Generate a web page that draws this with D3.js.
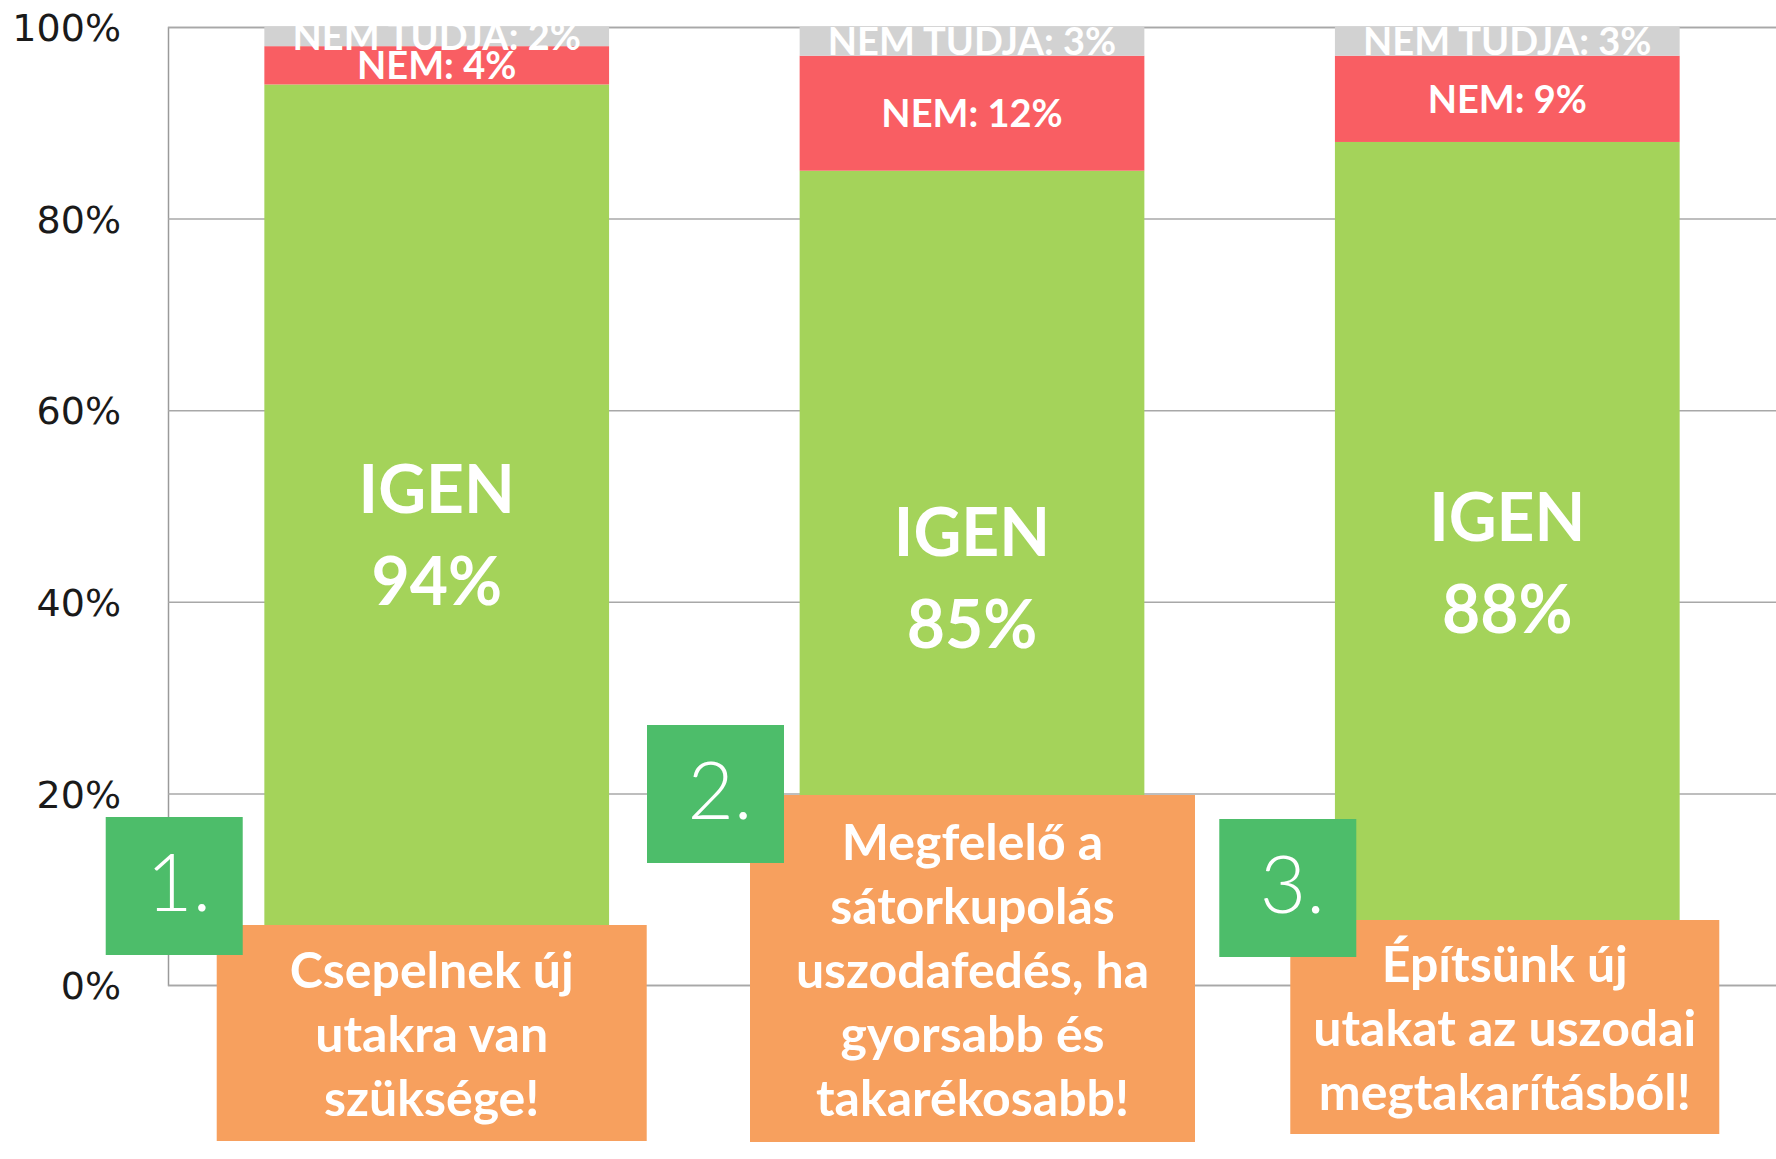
<!DOCTYPE html>
<html>
<head>
<meta charset="utf-8">
<script src="https://cdn.jsdelivr.net/npm/d3@7"></script>
<style>
  body { margin: 0; background: #fff; }
  svg { display: block; }
</style>
</head>
<body>
<div id="chart"></div>
<script>
// data
const categories = ["1.", "2.", "3."];
const igen = [94, 85, 88];
const nem = [4, 12, 9];
const nemTudja = [2, 3, 3];
const yTicks = [0, 20, 40, 60, 80, 100];
const statements = [
  ["Csepelnek új", "utakra van", "szüksége!"],
  ["Megfelelő a", "sátorkupolás", "uszodafedés, ha", "gyorsabb és", "takarékosabb!"],
  ["Építsünk új", "utakat az uszodai", "megtakarításból!"]
];

// annotation boxes, px offsets from band centre and from the zero line
const noteBoxes = [
  { ox: -220, oy: -60, w: 430, h: 216, nx: -331, ny: -168 },
  { ox: -222, oy: -190, w: 445, h: 347, nx: -325, ny: -260 },
  { ox: -217, oy: -65, w: 429, h: 214, nx: -288, ny: -166 }
];

const colors = { igen: "#a4d35a", nem: "#f95e63", tudja: "#d2d2d2", note: "#f7a05e", num: "#4dbd6a" };

function drawChart(cWidth, cHeight) {
  const margin = { left: 168, top: 27, right: 0, bottom: 174 },
    w = cWidth - margin.left - margin.right,
    h = cHeight - margin.top - margin.bottom,
    svg = d3.select("#chart").append("svg").attr("width", cWidth).attr("height", cHeight);

  const x = d3.scaleBand().domain(categories).range([margin.left, margin.left + w])
      .paddingInner(0.356).paddingOuter(0.18),
    y = d3.scaleLinear().domain([0, 100]).range([margin.top + h, margin.top]);

  // grid + axis
  const yAxis = svg.append("g")
    .attr("transform", `translate(${margin.left},0)`)
    .call(d3.axisLeft(y).tickValues(yTicks).tickSize(-w).tickFormat(d => d + "%"));
  yAxis.select(".domain").attr("stroke", "#9a9a9a").attr("stroke-width", 1.5);
  yAxis.selectAll(".tick line").attr("stroke", "#a8a8a8").attr("stroke-width", 1.5);
  yAxis.selectAll(".tick text")
    .attr("x", -47).attr("dy", "0.36em")
    .attr("fill", "#1a1a1a")
    .style("font-family", "DejaVu Sans")
    .style("font-size", "38px");

  // stacked bars
  const rows = categories.map((c, i) => ({ cat: c, igen: igen[i], nem: nem[i], tudja: nemTudja[i] }));
  const keys = ["igen", "nem", "tudja"];
  const series = d3.stack().keys(keys)(rows);

  svg.append("g").selectAll("g").data(series).join("g")
    .attr("fill", d => colors[d.key])
    .selectAll("rect").data(d => d).join("rect")
    .attr("x", d => x(d.data.cat))
    .attr("width", x.bandwidth())
    .attr("y", d => y(d[1]))
    .attr("height", d => y(d[0]) - y(d[1]));

  const lbl = svg.append("g").attr("fill", "#fff")
    .style("font-family", "Lato").style("font-weight", "bold").attr("text-anchor", "middle");

  series.forEach(s => {
    s.forEach(d => {
      const cx = x(d.data.cat) + x.bandwidth() / 2,
        cy = (y(d[0]) + y(d[1])) / 2,
        v = d.data[s.key];
      if (s.key === "igen") {
        lbl.append("text").attr("x", cx).attr("y", cy - 46).attr("dy", "0.36em")
          .style("font-size", "66px").text("IGEN");
        lbl.append("text").attr("x", cx).attr("y", cy + 46).attr("dy", "0.36em")
          .style("font-size", "66px").text(v + "%");
      } else {
        lbl.append("text").attr("x", cx).attr("y", cy).attr("dy", "0.36em")
          .style("font-size", "38px")
          .text((s.key === "nem" ? "NEM: " : "NEM TUDJA: ") + v + "%");
      }
    });
  });

  // statement boxes
  const y0 = y(0);
  const notes = svg.append("g");
  categories.forEach((c, i) => {
    const b = noteBoxes[i],
      cx = x(c) + x.bandwidth() / 2,
      top = y0 + b.oy,
      mid = top + b.h / 2,
      lines = statements[i];
    notes.append("rect").attr("x", cx + b.ox).attr("y", top)
      .attr("width", b.w).attr("height", b.h).attr("fill", colors.note);
    notes.selectAll(null).data(lines).join("text")
      .attr("x", cx + b.ox + b.w / 2)
      .attr("y", (d, j) => mid + 19 + (j - (lines.length - 1) / 2) * 64)
      .attr("text-anchor", "middle").attr("fill", "#fff")
      .style("font-family", "Lato").style("font-weight", "bold").style("font-size", "50px")
      .text(d => d);

    notes.append("rect").attr("x", cx + b.nx).attr("y", y0 + b.ny)
      .attr("width", 137).attr("height", 138).attr("fill", colors.num);
    notes.append("text")
      .attr("x", cx + b.nx + 68 + 5).attr("y", y0 + b.ny + 69 + 25)
      .attr("text-anchor", "middle").attr("fill", "#fff")
      .style("font-family", "Lato").style("font-weight", 300).style("font-size", "80px")
      .text(c);
  });
}

drawChart(1776, 1159);
</script>
</body>
</html>
